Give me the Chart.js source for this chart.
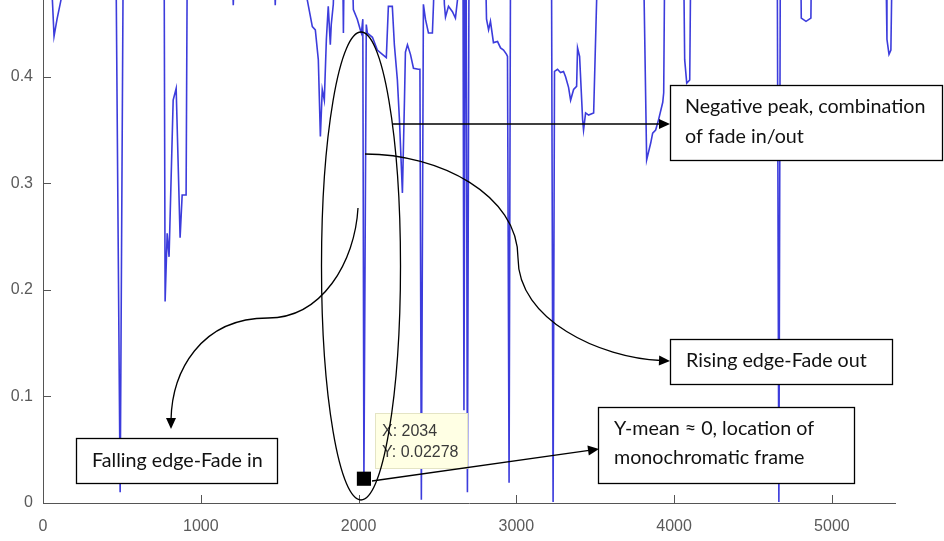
<!DOCTYPE html>
<html><head><meta charset="utf-8">
<script src="https://cdn.jsdelivr.net/npm/chart.js@4/dist/chart.umd.min.js"></script>
<style>html,body{margin:0;padding:0;background:#fff;}canvas{display:block;}</style>
</head><body>
<canvas id="c" width="944" height="541"></canvas>
<script>
// ---- data (frame index vs. mean value) ----
const frameIdx = [0,57,70,89,114,120,463,489,508,768,774,787,799,825,844,869,882,907,914,
1200,1206,1212,1466,1472,1478,1662,1675,1707,1726,1745,1758,1770,1783,1796,1808,1821,1827,1840,1846,
1900,1904,1908,1961,1967,1992,2011,2018,2027,2034,2049,2056,2088,2119,2151,2176,2189,2214,2227,2246,
2259,2278,2291,2297,2310,2329,2348,2379,2389,2398,2411,2424,2443,2468,2475,2481,2538,2544,2551,2570,
2595,2614,2627,2633,2662,2668,2676,2682,2690,2700,2805,2811,2824,2836,2855,2881,2900,2919,2938,2944,
2954,2963,3223,3233,3242,3261,3280,3299,3312,3331,3344,3363,3382,3388,3401,3420,3426,3439,3458,3490,
3509,3512,3807,3826,3852,3864,3883,3902,3928,3934,3940,4061,4067,4080,4099,4105,4654,4664,4673,4803,
4806,4836,4867,4870,5343,5349,5362,5374,5381,5400];
const meanVal = [0.50,0.48,0.438,0.454,0.472,0.50,0.50,0.010,0.50,0.50,0.189,0.253,0.231,0.378,0.389,0.249,0.289,0.289,0.50,
0.50,0.467,0.50,0.50,0.467,0.50,0.50,0.472,0.447,0.444,0.416,0.344,0.388,0.378,0.435,0.466,0.430,0.449,0.468,0.50,
0.50,0.441,0.50,0.50,0.463,0.454,0.444,0.441,0.454,0.02278,0.449,0.441,0.437,0.425,0.421,0.418,0.466,0.466,0.430,0.397,
0.360,0.291,0.378,0.423,0.430,0.421,0.408,0.407,0.407,0.003,0.468,0.454,0.441,0.441,0.468,0.50,0.50,0.468,0.456,0.466,
0.461,0.455,0.472,0.50,0.50,0.087,0.50,0.50,0.010,0.50,0.50,0.454,0.444,0.452,0.432,0.433,0.427,0.425,0.421,0.419,
0.019,0.50,0.50,0.001,0.405,0.407,0.404,0.405,0.400,0.390,0.378,0.388,0.391,0.427,0.419,0.360,0.350,0.366,0.364,0.366,
0.472,0.50,0.50,0.322,0.338,0.347,0.350,0.360,0.376,0.385,0.50,0.50,0.416,0.394,0.397,0.50,0.50,0.001,0.50,0.50,
0.455,0.452,0.455,0.50,0.50,0.435,0.421,0.425,0.50,0.50];
const tipX = [2034];
const tipY = [0.02278];
const xTicks = [0,1000,2000,3000,4000,5000];
const yTicks = [0,0.1,0.2,0.3,0.4];
const noteNegative = ["Negative peak, combination","of fade in/out"];
const noteRising = ["Rising edge-Fade out"];
const noteFalling = ["Falling edge-Fade in"];
const noteMono = ["Y-mean \u2248 0, location of","monochromatic frame"];

const lineColor = '#3c3cdc';
const axisColor = '#555555';

function arrowHead(ctx, x, y, ang){
  const L = 11, W = 5;
  ctx.save(); ctx.translate(x,y); ctx.rotate(ang);
  ctx.beginPath(); ctx.moveTo(0,0); ctx.lineTo(-L,-W); ctx.lineTo(-L,W); ctx.closePath();
  ctx.fillStyle='#000'; ctx.fill(); ctx.restore();
}
function textBox(ctx, x, y, w, h, lines, tx, ys, font){
  ctx.fillStyle='#fff'; ctx.fillRect(x,y,w,h);
  ctx.strokeStyle='#000'; ctx.lineWidth=1.3; ctx.strokeRect(x,y,w,h);
  ctx.fillStyle='#111'; ctx.font=font; ctx.textBaseline='middle'; ctx.textAlign='left';
  lines.forEach((t,i)=>ctx.fillText(t, tx, ys[i]));
}

const annot = {
  id:'annot',
  afterDraw(chart){
    const ctx = chart.ctx, xs = chart.scales.x, ys = chart.scales.y, ca = chart.chartArea;
    ctx.save();
    // inward ticks
    ctx.strokeStyle = axisColor; ctx.lineWidth = 1;
    xTicks.forEach(v=>{ if(v===0) return; const px=Math.round(xs.getPixelForValue(v))+0.5;
      ctx.beginPath(); ctx.moveTo(px, ca.bottom); ctx.lineTo(px, ca.bottom-8); ctx.stroke(); });
    yTicks.forEach(v=>{ if(v===0) return; const py=Math.round(ys.getPixelForValue(v))+0.5;
      ctx.beginPath(); ctx.moveTo(ca.left, py); ctx.lineTo(ca.left+8, py); ctx.stroke(); });

    // data tip
    ctx.fillStyle='#ffffe4'; ctx.fillRect(375,413,92,55);
    ctx.strokeStyle='#e4e4c4'; ctx.lineWidth=1; ctx.strokeRect(375.5,413.5,92,55);
    ctx.fillStyle='#3a3a3a'; ctx.font='16px "Liberation Sans", Arial, sans-serif';
    ctx.textBaseline='middle'; ctx.textAlign='left';
    ctx.fillText('X: '+tipX[0], 382, 432);
    ctx.fillText('Y: '+tipY[0], 382, 453);

    // ellipse
    ctx.strokeStyle='#000'; ctx.lineWidth=1.3;
    ctx.beginPath(); ctx.ellipse(361, 266, 39.5, 234, 0, 0, Math.PI*2); ctx.stroke();

    // negative peak arrow
    ctx.beginPath(); ctx.moveTo(393,124); ctx.lineTo(662,124); ctx.stroke();
    arrowHead(ctx, 670, 124, 0);

    // rising edge arrow
    ctx.beginPath(); ctx.moveTo(365,154);
    ctx.bezierCurveTo(440,154, 518,195, 518,258);
    ctx.bezierCurveTo(518,320, 600,358, 661,360.5);
    ctx.stroke();
    arrowHead(ctx, 670, 361, 0.04);

    // falling edge arrow
    ctx.beginPath(); ctx.moveTo(358,208);
    ctx.bezierCurveTo(355,262, 322,318, 268,318);
    ctx.bezierCurveTo(200,318, 172,372, 171,420);
    ctx.stroke();
    arrowHead(ctx, 171, 429, Math.PI/2);

    // monochromatic arrow
    const ang = Math.atan2(449-481, 599-372);
    ctx.beginPath(); ctx.moveTo(372,481); ctx.lineTo(599-10*Math.cos(ang), 449-10*Math.sin(ang)); ctx.stroke();
    arrowHead(ctx, 599, 449, ang);

    // text boxes
    ctx.font = '100px Lato, "Open Sans", sans-serif';
    const fs = Math.round(100*240/ctx.measureText(noteNegative[0]).width*10)/10;
    const font = fs+'px Lato, "Open Sans", sans-serif';
    textBox(ctx, 670.5, 85.5, 272, 75, noteNegative, 685, [107,137], font);
    textBox(ctx, 670.5, 339.5, 222, 45, noteRising, 686, [361], font);
    textBox(ctx, 76.5, 438.5, 201, 45, noteFalling, 92, [461], font);
    textBox(ctx, 598.5, 407.5, 256, 76, noteMono, 614, [429,458], font);
    ctx.restore();
  }
};

new Chart(document.getElementById('c'), {
  type:'line',
  data:{
    datasets:[
      { data: frameIdx.map((x,i)=>({x, y: meanVal[i]})), borderColor: lineColor, borderWidth: 1.6,
        pointRadius: 0, tension: 0, fill: false, order: 2 },
      { data: tipX.map((x,i)=>({x, y: tipY[i]})), showLine:false, pointStyle:'rect',
        pointRadius: 10, backgroundColor:'#000', borderColor:'#000', borderWidth:0, order: 1, clip: false }
    ]
  },
  options:{
    responsive:false, animation:false, devicePixelRatio:1,
    layout:{ autoPadding:false, padding:{ left:0, right:49, top:0, bottom:0 } },
    plugins:{ legend:{display:false}, tooltip:{enabled:false} },
    scales:{
      x:{ type:'linear', min:0, max:5400,
        afterBuildTicks: s=>{ s.ticks = xTicks.map(v=>({value:v})); },
        afterFit: s=>{ s.height = 38; s.paddingLeft = 0; s.paddingRight = 0; },
        grid:{ display:true, drawOnChartArea:false, drawTicks:false },
        border:{ display:true, color: axisColor, width:1 },
        ticks:{ padding:14, autoSkip:false, maxRotation:0, color:'#5a5a5a',
          font:{ family:'"Liberation Sans", Arial, sans-serif', size:16 }, callback: v=>String(v) } },
      y:{ type:'linear', min:0, max:0.472,
        afterBuildTicks: s=>{ s.ticks = yTicks.map(v=>({value:v})); },
        afterFit: s=>{ s.width = 43; s.paddingTop = 0; s.paddingBottom = 0; },
        grid:{ display:true, drawOnChartArea:false, drawTicks:false },
        border:{ display:true, color: axisColor, width:1 },
        ticks:{ padding:10, color:'#5a5a5a',
          font:{ family:'"Liberation Sans", Arial, sans-serif', size:16 }, callback: v=>String(v) } }
    }
  },
  plugins:[annot]
});
</script>
</body></html>
